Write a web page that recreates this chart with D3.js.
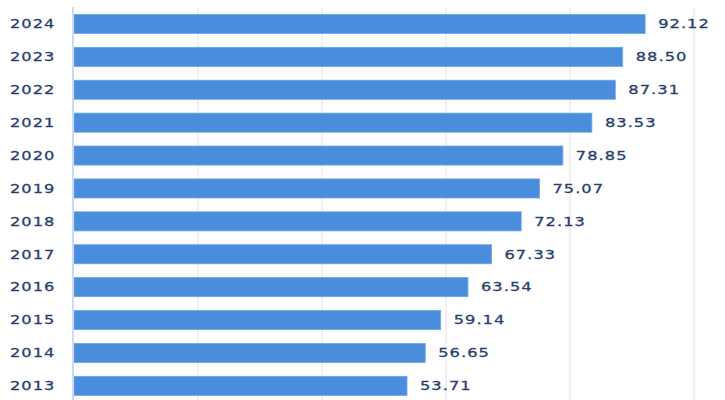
<!DOCTYPE html>
<html>
<head>
<meta charset="utf-8">
<script src="https://cdn.jsdelivr.net/npm/d3@7"></script>
<style>
  html, body { margin: 0; padding: 0; background: #ffffff; }
  svg { display: block; }
</style>
</head>
<body>
<svg id="chart" width="725" height="400"></svg>
<script>
const years = ["2024","2023","2022","2021","2020","2019","2018","2017","2016","2015","2014","2013"];
const values = [92.12, 88.50, 87.31, 83.53, 78.85, 75.07, 72.13, 67.33, 63.54, 59.14, 56.65, 53.71];
const gridTicks = [0, 20, 40, 60, 80, 100];

const svg = d3.select("#chart");
const x = d3.scaleLinear().domain([0, 100]).range([74, 694]);
const y = d3.scaleBand().domain(years).range([7.5, 402.3]).paddingInner(0.42).paddingOuter(0.21);

// gridlines
svg.append("g").selectAll("line").data(gridTicks.slice(1)).join("line")
  .attr("x1", d => x(d)).attr("x2", d => x(d))
  .attr("y1", 7).attr("y2", 400)
  .attr("stroke", "#ececec").attr("stroke-width", 1.5);

// bars
svg.append("g").selectAll("rect").data(years).join("rect")
  .attr("x", x(0))
  .attr("y", (d) => y(d))
  .attr("width", (d, i) => x(values[i]) - x(0))
  .attr("height", y.bandwidth())
  .attr("fill", "#4a8ddd")
  .attr("stroke", "#6fa5e6")
  .attr("stroke-width", 0.8);

// axis line
svg.append("line")
  .attr("x1", x(0) - 1).attr("x2", x(0) - 1)
  .attr("y1", 7).attr("y2", 400)
  .attr("stroke", "#c9dbf3").attr("stroke-width", 2);

function styleText(sel) {
  sel.attr("dominant-baseline", "central")
    .attr("font-family", "'DejaVu Sans', sans-serif")
    .attr("font-size", 12.5)
    .attr("letter-spacing", "0.8px")
    .attr("fill", "#2b3f6c")
    .attr("stroke", "#2b3f6c")
    .attr("stroke-width", 0.3);
}

// year labels
svg.append("g").selectAll("text").data(years).join("text")
  .attr("transform", d => `translate(10,${y(d) + y.bandwidth() / 2}) scale(1.3,1)`)
  .call(styleText)
  .text(d => d);

// value labels
svg.append("g").selectAll("text").data(years).join("text")
  .attr("transform", (d, i) => `translate(${x(values[i]) + 13},${y(d) + y.bandwidth() / 2}) scale(1.3,1)`)
  .call(styleText)
  .text((d, i) => values[i].toFixed(2));
</script>
</body>
</html>
